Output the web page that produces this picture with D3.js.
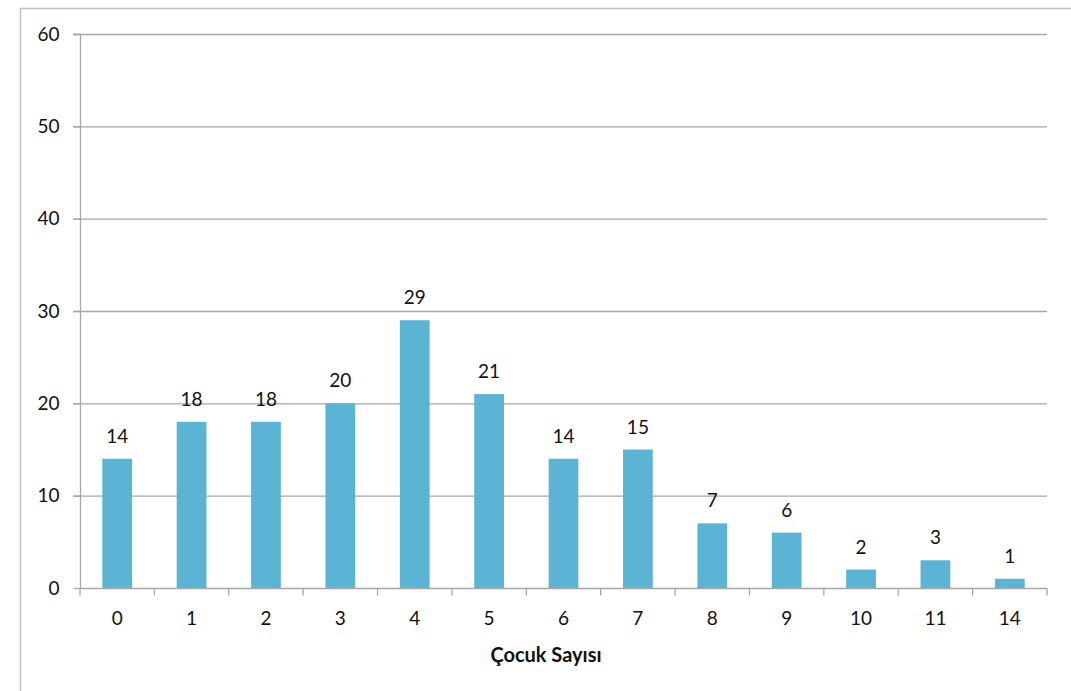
<!DOCTYPE html>
<html><head><meta charset="utf-8">
<script src="https://cdn.jsdelivr.net/npm/d3@7"></script>
<style>body{margin:0;background:#fff;}svg{display:block;font-family:"Lato","Open Sans",sans-serif;}</style>
</head><body>
<svg id="c" width="1071" height="691"></svg>
<script>
const categories = ["0","1","2","3","4","5","6","7","8","9","10","11","14"];
const values = [14,18,18,20,29,21,14,15,7,6,2,3,1];
const yTicks = [0,10,20,30,40,50,60];
const xTitle = "Çocuk Sayısı";
const FONT = "Lato, 'Open Sans', sans-serif";
const FS = 19;

const svg = d3.select("#c");
// outer chart border
svg.append("rect").attr("x",20.5).attr("y",8.5).attr("width",1100).attr("height",700)
  .attr("fill","none").attr("stroke","#bfbfbf").attr("stroke-width",1.5);

const L=80, R=1047, T=34, B=588;
const x = d3.scaleBand().domain(categories).range([L,R]).paddingInner(0.6).paddingOuter(0.3);
const y = d3.scaleLinear().domain([0,60]).range([B,T]);

// gridlines
svg.append("g").selectAll("line").data(yTicks.filter(d=>d>0)).join("line")
  .attr("x1",73).attr("x2",R).attr("y1",d=>y(d)+0.5).attr("y2",d=>y(d)+0.5)
  .attr("stroke","#a6a6a6").attr("stroke-width",1.3);

// y axis
const ya = svg.append("g").attr("transform",`translate(${L+0.5},0)`)
  .call(d3.axisLeft(y).tickValues(yTicks).tickSize(7).tickPadding(14));
ya.attr("font-family",FONT).attr("font-size",FS);
ya.select(".domain").attr("stroke","#a6a6a6").attr("stroke-width",1.3).attr("d",`M-7,${T+0.5}H0V${B+0.5}`);
ya.selectAll(".tick line").attr("stroke","#a6a6a6").attr("stroke-width",1.3);
ya.selectAll("text").attr("font-size",FS).attr("fill","#111").attr("font-family",FONT);

// bars
svg.append("g").selectAll("rect").data(values).join("rect")
  .attr("x",(d,i)=>x(categories[i])).attr("width",x.bandwidth())
  .attr("y",d=>y(d)).attr("height",d=>B-y(d)).attr("fill","#5bb4d4");

// x axis
const xa = svg.append("g").attr("transform",`translate(0,${B+0.5})`);
xa.append("line").attr("x1",L).attr("x2",R).attr("stroke","#a6a6a6").attr("stroke-width",1.3);
const bounds = d3.range(categories.length+1).map(i=>L+i*(R-L)/categories.length);
xa.selectAll("line.t").data(bounds).join("line").attr("class","t")
  .attr("x1",d=>d).attr("x2",d=>d).attr("y1",0).attr("y2",7)
  .attr("stroke","#a6a6a6").attr("stroke-width",1.3);
xa.selectAll("text").data(categories).join("text")
  .attr("x",d=>x(d)+x.bandwidth()/2).attr("y",36).attr("text-anchor","middle")
  .attr("font-size",FS).attr("font-family",FONT).attr("fill","#111").text(d=>d);

// value labels
svg.append("g").selectAll("text").data(values).join("text")
  .attr("x",(d,i)=>x(categories[i])+x.bandwidth()/2).attr("y",d=>y(d)-16)
  .attr("text-anchor","middle").attr("font-size",FS).attr("font-family",FONT).attr("fill","#111").text(d=>d);

// axis title
svg.append("text").attr("x",546).attr("y",662).attr("text-anchor","middle")
  .attr("font-size",20).attr("font-family",FONT).attr("font-weight","bold").attr("fill","#111").text(xTitle);
</script>
</body></html>
